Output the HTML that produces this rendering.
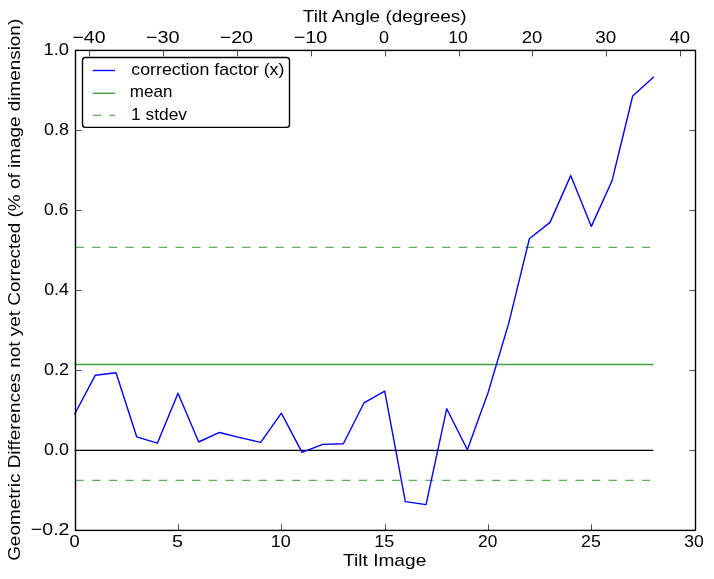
<!DOCTYPE html><html><head><meta charset="utf-8"><style>html,body{margin:0;padding:0;background:#fff;}svg{display:block;will-change:transform;}text{font-family:"Liberation Sans",sans-serif;fill:#000;}</style></head><body>
<svg width="714" height="579" viewBox="0 0 714 579">
<rect width="714" height="579" fill="#fff"/>
<line x1="74.7" y1="450.4" x2="653.37" y2="450.4" stroke="#000" stroke-width="1.4"/>
<line x1="74.7" y1="364.44" x2="653.37" y2="364.44" stroke="#40a040" stroke-width="1.4"/>
<line x1="74.7" y1="247.28" x2="653.37" y2="247.28" stroke="#5cb05c" stroke-width="1.2" stroke-dasharray="8.33 8.33" stroke-dashoffset="-0.8"/>
<line x1="74.7" y1="480.28" x2="653.37" y2="480.28" stroke="#5cb05c" stroke-width="1.2" stroke-dasharray="8.33 8.33" stroke-dashoffset="-0.8"/>
<polyline points="74.70,414.00 95.37,375.20 116.03,372.80 136.70,436.80 157.37,443.20 178.03,393.20 198.70,442.00 219.37,432.48 240.03,437.60 260.70,442.40 281.37,413.20 302.03,452.40 322.70,444.40 343.37,443.76 364.03,402.80 384.70,391.20 405.37,501.60 426.03,504.60 446.70,408.80 467.37,449.76 488.03,392.80 508.70,323.40 529.37,238.80 550.03,222.40 570.70,175.60 591.37,226.40 612.03,180.80 632.70,96.00 653.37,77.20" fill="none" stroke="#0000ff" stroke-width="1.4" stroke-linejoin="round" stroke-linecap="round"/>
<rect x="75.5" y="50.4" width="620.0" height="480.0" fill="none" stroke="#000" stroke-width="1.4"/>
<path d="M75.5,530.50h6.0M695.5,530.50h-6.0M75.5,450.50h6.0M695.5,450.50h-6.0M75.5,370.50h6.0M695.5,370.50h-6.0M75.5,290.50h6.0M695.5,290.50h-6.0M75.5,210.50h6.0M695.5,210.50h-6.0M75.5,130.50h6.0M695.5,130.50h-6.0M75.5,50.50h6.0M695.5,50.50h-6.0M75.50,530.4v-6.0M178.50,530.4v-6.0M281.50,530.4v-6.0M385.50,530.4v-6.0M488.50,530.4v-6.0M591.50,530.4v-6.0M695.50,530.4v-6.0M89.50,50.4v6.0M163.50,50.4v6.0M237.50,50.4v6.0M311.50,50.4v6.0M385.50,50.4v6.0M459.50,50.4v6.0M532.50,50.4v6.0M606.50,50.4v6.0M680.50,50.4v6.0" stroke="#000" stroke-width="0.7" fill="none"/>
<rect x="82.5" y="57.5" width="207" height="69.9" rx="2.8" ry="2.8" fill="#fff" stroke="#000" stroke-width="1.4"/>
<line x1="92.8" y1="70.5" x2="115" y2="70.5" stroke="#0000ff" stroke-width="1.4"/>
<line x1="92.8" y1="93.3" x2="115" y2="93.3" stroke="#40a040" stroke-width="1.4"/>
<line x1="92.8" y1="115.3" x2="115" y2="115.3" stroke="#5cb05c" stroke-width="1.2" stroke-dasharray="8.33 8.33"/>
<text x="72.50" y="43.00" font-size="17" textLength="33.00" lengthAdjust="spacingAndGlyphs">−40</text>
<text x="145.96" y="43.00" font-size="17" textLength="33.69" lengthAdjust="spacingAndGlyphs">−30</text>
<text x="219.68" y="43.00" font-size="17" textLength="33.41" lengthAdjust="spacingAndGlyphs">−20</text>
<text x="293.65" y="43.00" font-size="17" textLength="33.60" lengthAdjust="spacingAndGlyphs">−10</text>
<text x="379.07" y="43.00" font-size="17" textLength="10.00" lengthAdjust="spacingAndGlyphs">0</text>
<text x="448.21" y="43.00" font-size="17" textLength="19.54" lengthAdjust="spacingAndGlyphs">10</text>
<text x="521.71" y="43.00" font-size="17" textLength="20.55" lengthAdjust="spacingAndGlyphs">20</text>
<text x="595.16" y="43.00" font-size="17" textLength="21.00" lengthAdjust="spacingAndGlyphs">30</text>
<text x="669.46" y="43.00" font-size="17" textLength="20.59" lengthAdjust="spacingAndGlyphs">40</text>
<text x="30.87" y="535.18" font-size="17" textLength="38.62" lengthAdjust="spacingAndGlyphs">−0.2</text>
<text x="44.14" y="455.18" font-size="17" textLength="24.79" lengthAdjust="spacingAndGlyphs">0.0</text>
<text x="44.12" y="375.18" font-size="17" textLength="24.93" lengthAdjust="spacingAndGlyphs">0.2</text>
<text x="44.17" y="295.18" font-size="17" textLength="24.60" lengthAdjust="spacingAndGlyphs">0.4</text>
<text x="44.11" y="215.18" font-size="17" textLength="24.41" lengthAdjust="spacingAndGlyphs">0.6</text>
<text x="44.13" y="135.18" font-size="17" textLength="24.98" lengthAdjust="spacingAndGlyphs">0.8</text>
<text x="43.50" y="55.18" font-size="17" textLength="25.46" lengthAdjust="spacingAndGlyphs">1.0</text>
<text x="69.47" y="547.16" font-size="17" textLength="10.18" lengthAdjust="spacingAndGlyphs">0</text>
<text x="171.97" y="547.16" font-size="17" textLength="11.05" lengthAdjust="spacingAndGlyphs">5</text>
<text x="270.68" y="547.16" font-size="17" textLength="20.00" lengthAdjust="spacingAndGlyphs">10</text>
<text x="374.18" y="547.16" font-size="17" textLength="20.06" lengthAdjust="spacingAndGlyphs">15</text>
<text x="478.09" y="547.16" font-size="17" textLength="19.25" lengthAdjust="spacingAndGlyphs">20</text>
<text x="581.02" y="547.16" font-size="17" textLength="19.75" lengthAdjust="spacingAndGlyphs">25</text>
<text x="684.35" y="547.16" font-size="17" textLength="19.51" lengthAdjust="spacingAndGlyphs">30</text>
<text x="302.88" y="21.84" font-size="17" textLength="163.71" lengthAdjust="spacingAndGlyphs">Tilt Angle (degrees)</text>
<text x="343.07" y="565.84" font-size="17" textLength="83.21" lengthAdjust="spacingAndGlyphs">Tilt Image</text>
<text transform="translate(19.70,560.84) rotate(-90)" x="0" y="0" font-size="17" textLength="542.04" lengthAdjust="spacingAndGlyphs">Geometric Differences not yet Corrected (% of image dimension)</text>
<text x="131.30" y="75.00" font-size="17" textLength="153.11" lengthAdjust="spacingAndGlyphs">correction factor (x)</text>
<text x="129.81" y="97.20" font-size="17" textLength="42.58" lengthAdjust="spacingAndGlyphs">mean</text>
<text x="131.09" y="119.70" font-size="17" textLength="55.86" lengthAdjust="spacingAndGlyphs">1 stdev</text>
</svg></body></html>
